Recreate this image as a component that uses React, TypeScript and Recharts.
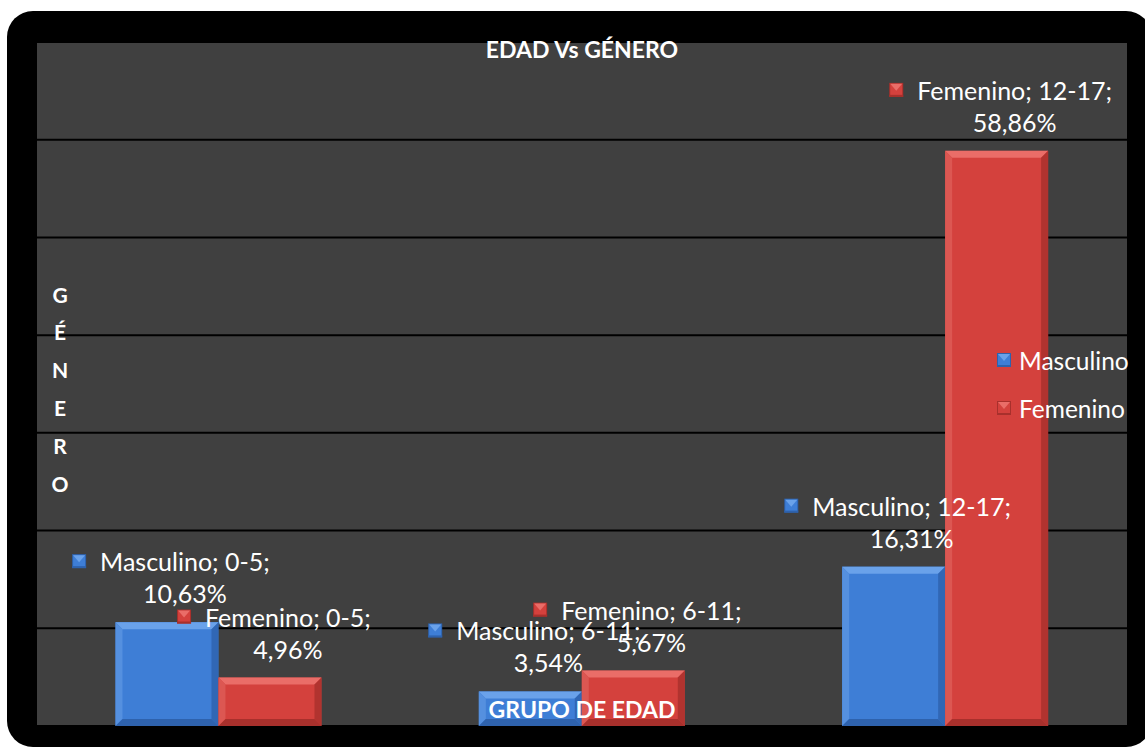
import React from 'react';
import { BarChart, Bar, XAxis, YAxis, CartesianGrid, LabelList, Legend } from 'recharts';

const CATEGORIES = ['0-5', '6-11', '12-17'];
const MASCULINO = [10.63, 3.54, 16.31];
const FEMENINO = [4.96, 5.67, 58.86];
const Y_TICKS = [0, 10, 20, 30, 40, 50, 60, 70];
const SERIES = ['Masculino', 'Femenino'];

const COLORS: Record<string, { base: string; light: string; side: string; dark: string }> = {
  Masculino: { base: '#3e7ed6', light: '#6aa2ea', side: '#5590df', dark: '#2e62ad' },
  Femenino: { base: '#d4413d', light: '#ea6d68', side: '#dc5752', dark: '#a8302c' },
};

const FONT = 'Lato, "Open Sans", sans-serif';
const LABEL_SIZE = 25;

const data = CATEGORIES.map((grupo, i) => ({
  grupo,
  Masculino: MASCULINO[i],
  Femenino: FEMENINO[i],
}));

let ctx: CanvasRenderingContext2D | null = null;
function textWidth(s: string, font: string) {
  if (!ctx) ctx = document.createElement('canvas').getContext('2d');
  if (!ctx) return s.length * 10;
  ctx.font = font;
  return ctx.measureText(s).width;
}

function Marker({ x, y, size, series }: { x: number; y: number; size: number; series: string }) {
  const c = COLORS[series];
  const b = 4;
  return (
    <g>
      <rect x={x} y={y} width={size} height={size} fill={c.dark} />
      <rect x={x + 1} y={y + 1} width={size - 2} height={size - 2} fill={c.base} />
      <polygon
        points={`${x + 1},${y + 1} ${x + size - 1},${y + 1} ${x + size / 2},${y + size / 2 + 1}`}
        fill={c.light}
      />
      <rect x={x} y={y + size - b / 2} width={size} height={b / 2} fill={c.dark} />
    </g>
  );
}

function BevelBar(props: any) {
  const { x, y, width: w, height: h, series } = props;
  if (!h || h <= 0) return null;
  const c = COLORS[series];
  const b = Math.min(7, h / 2, w / 2);
  return (
    <g>
      <rect x={x} y={y} width={w} height={h} fill={c.base} />
      <polygon points={`${x},${y} ${x + w},${y} ${x + w - b},${y + b} ${x + b},${y + b}`} fill={c.light} />
      <polygon points={`${x},${y} ${x + b},${y + b} ${x + b},${y + h - b} ${x},${y + h}`} fill={c.side} />
      <polygon points={`${x + w},${y} ${x + w},${y + h} ${x + w - b},${y + h - b} ${x + w - b},${y + b}`} fill={c.dark} opacity={0.8} />
      <polygon points={`${x},${y + h} ${x + w},${y + h} ${x + w - b},${y + h - b} ${x + b},${y + h - b}`} fill={c.dark} />
    </g>
  );
}

function DataLabel(props: any) {
  const { x, y, width, value, index, series } = props;
  const line1 = `${series}; ${CATEGORIES[index]};`;
  const line2 = `${Number(value).toFixed(2).replace('.', ',')}%`;
  const cx = x + width / 2 + 18;
  const w1 = textWidth(line1, `${LABEL_SIZE}px ${FONT}`);
  const y1 = y - 61;
  const y2 = y - 29;
  return (
    <g>
      <Marker x={cx - w1 / 2 - 28} y={y1 - 7} size={14} series={series} />
      <text x={cx} y={y1} textAnchor="middle" dominantBaseline="central" fill="#ffffff" fontSize={LABEL_SIZE} fontFamily={FONT}>
        {line1}
      </text>
      <text x={cx} y={y2} textAnchor="middle" dominantBaseline="central" fill="#ffffff" fontSize={LABEL_SIZE} fontFamily={FONT}>
        {line2}
      </text>
    </g>
  );
}

function LegendBox() {
  return (
    <svg width={150} height={80} style={{ display: 'block', overflow: 'visible' }}>
      {SERIES.map((s, i) => (
        <g key={s}>
          <Marker x={2} y={8 + i * 48} size={14} series={s} />
          <text x={24} y={15 + i * 48} dominantBaseline="central" fill="#ffffff" fontSize={24.5} fontFamily={FONT}>
            {s}
          </text>
        </g>
      ))}
    </svg>
  );
}

export default function App() {
  const W = 1145;
  const H = 749;
  const yLetters = 'GÉNERO'.split('');
  return (
    <div style={{ position: 'absolute', left: 0, top: 0, width: W, height: H, background: '#ffffff', overflow: 'hidden' }}>
      <div
        style={{
          position: 'absolute',
          left: 7,
          top: 11,
          width: W,
          height: 736,
          background: '#000000',
          borderRadius: 26,
        }}
      />
      <div style={{ position: 'absolute', left: 0, top: 0 }}>
        <BarChart
          width={W}
          height={H}
          data={data}
          margin={{ top: 42, right: 18, bottom: 23, left: 37 }}
          barCategoryGap="21.6%"
          barGap={0}
        >
          <CartesianGrid vertical={false} stroke="#000000" strokeWidth={2} fill="#404040" fillOpacity={1} />
          <XAxis dataKey="grupo" hide />
          <YAxis hide domain={[0, 70]} ticks={Y_TICKS} />
          <Legend
            layout="vertical"
            align="center"
            verticalAlign="middle"
            wrapperStyle={{ position: 'absolute', left: 995, top: 345, width: 150, height: 80 }}
            content={() => <LegendBox />}
          />
          {SERIES.map((s) => (
            <Bar
              key={s}
              dataKey={s}
              fill={COLORS[s].base}
              isAnimationActive={false}
              shape={(p: any) => <BevelBar {...p} series={s} />}
            >
              <LabelList dataKey={s} content={(p: any) => <DataLabel {...p} series={s} />} />
            </Bar>
          ))}
        </BarChart>
      </div>
      <svg width={W} height={H} style={{ position: 'absolute', left: 0, top: 0, pointerEvents: 'none' }}>
        <text x={582} y={49} textAnchor="middle" dominantBaseline="central" fill="#ffffff" fontSize={23} fontWeight="bold" fontFamily={FONT}>
          EDAD Vs GÉNERO
        </text>
        <text x={582} y={709} textAnchor="middle" dominantBaseline="central" fill="#ffffff" fontSize={23} fontWeight="bold" fontFamily={FONT}>
          GRUPO DE EDAD
        </text>
        {yLetters.map((ch, i) => (
          <text
            key={i}
            x={60}
            y={294 + i * 37.8}
            textAnchor="middle"
            dominantBaseline="central"
            fill="#ffffff"
            fontSize={21}
            fontWeight="bold"
            fontFamily={FONT}
          >
            {ch}
          </text>
        ))}
      </svg>
    </div>
  );
}
